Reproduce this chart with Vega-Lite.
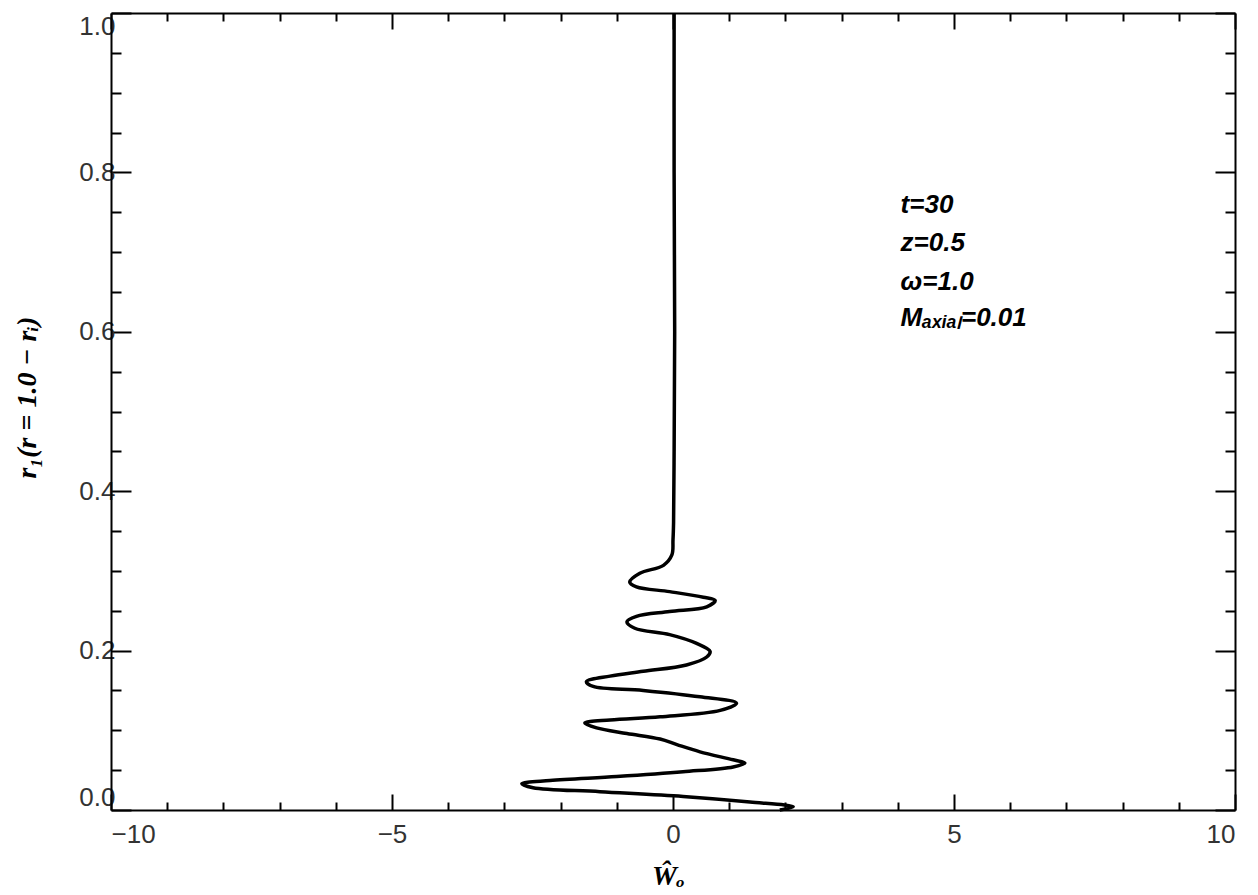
{
  "$schema": "https://vega.github.io/schema/vega-lite/v6.json",
  "autosize": "none",
  "width": 1124,
  "height": 797,
  "padding": {"left": 111, "top": 13, "right": 23, "bottom": 85},
  "background": "white",
  "config": {
    "view": {"stroke": null},
    "axis": {
      "domainColor": "black",
      "domainWidth": 2,
      "tickColor": "black",
      "tickWidth": 2,
      "grid": false,
      "labelFont": "Liberation Sans",
      "labelFontSize": 26,
      "labelColor": "#333",
      "titleFont": "Liberation Serif",
      "titleFontStyle": "italic",
      "titleFontWeight": "bold",
      "titleFontSize": 28,
      "titleColor": "black"
    }
  },
  "datasets": {
    "curve": [
      {"x": 0.02, "r": 1.0},
      {"x": 0.02, "r": 0.8},
      {"x": 0.03, "r": 0.6},
      {"x": 0.02, "r": 0.45},
      {"x": 0.01, "r": 0.36},
      {"x": 0.0, "r": 0.339},
      {"x": -0.02, "r": 0.32},
      {"x": -0.17, "r": 0.307},
      {"x": -0.59, "r": 0.297},
      {"x": -0.77, "r": 0.286},
      {"x": -0.65, "r": 0.28},
      {"x": -0.06, "r": 0.274},
      {"x": 0.54, "r": 0.267},
      {"x": 0.75, "r": 0.263},
      {"x": 0.6, "r": 0.255},
      {"x": -0.06, "r": 0.249},
      {"x": -0.65, "r": 0.243},
      {"x": -0.82, "r": 0.236},
      {"x": -0.68, "r": 0.228},
      {"x": -0.06, "r": 0.22},
      {"x": 0.42, "r": 0.209},
      {"x": 0.66, "r": 0.199},
      {"x": 0.6, "r": 0.192},
      {"x": 0.24, "r": 0.182},
      {"x": -0.53, "r": 0.174},
      {"x": -1.12, "r": 0.168},
      {"x": -1.54, "r": 0.161},
      {"x": -1.42, "r": 0.155},
      {"x": -0.53, "r": 0.15},
      {"x": 0.48, "r": 0.142},
      {"x": 1.13, "r": 0.134},
      {"x": 0.84, "r": 0.125},
      {"x": -0.23, "r": 0.117},
      {"x": -1.12, "r": 0.113},
      {"x": -1.57, "r": 0.109},
      {"x": -1.36, "r": 0.103},
      {"x": -0.82, "r": 0.096},
      {"x": -0.23, "r": 0.089},
      {"x": 0.07, "r": 0.082},
      {"x": 0.48, "r": 0.073},
      {"x": 1.07, "r": 0.063},
      {"x": 1.28, "r": 0.059},
      {"x": 1.07, "r": 0.054},
      {"x": 0.18, "r": 0.048},
      {"x": -1.0, "r": 0.042},
      {"x": -2.19, "r": 0.037},
      {"x": -2.69, "r": 0.033},
      {"x": -2.49, "r": 0.028},
      {"x": -1.3, "r": 0.023},
      {"x": 0.18, "r": 0.017},
      {"x": 1.37, "r": 0.01},
      {"x": 2.14, "r": 0.004},
      {"x": 1.9, "r": 0.0}
    ],
    "notes": [
      {"label": "t=30", "x": 4.05, "r": 0.759},
      {"label": "z=0.5", "x": 4.05, "r": 0.711},
      {"label": "ω=1.0", "x": 4.05, "r": 0.662},
      {"label": "Mₐₓᵢₐₗ=0.01", "x": 4.05, "r": 0.617}
    ]
  },
  "resolve": {"axis": {"x": "independent", "y": "independent"}},
  "layer": [
    {
      "data": {"name": "curve"},
      "mark": {"type": "line", "color": "black", "strokeWidth": 3.5, "interpolate": "catmull-rom"},
      "encoding": {
        "x": {
          "field": "x", "type": "quantitative",
          "scale": {"domain": [-10, 10], "nice": false, "zero": false},
          "axis": {"orient": "bottom", "values": [-10, -5, 0, 5, 10], "tickSize": -16, "labelPadding": 27, "title": "Ŵₒ", "titleX": 557, "titleY": 66, "titleBaseline": "middle", "titleAnchor": null}
        },
        "y": {
          "field": "r", "type": "quantitative",
          "scale": {"domain": [0, 1], "nice": false, "zero": false},
          "axis": {"orient": "left", "values": [0, 0.2, 0.4, 0.6, 0.8, 1.0], "format": ".1f", "tickSize": -20, "labelPadding": 16, "labelFlush": true, "title": "r₁(r = 1.0 − rᵢ)", "titleX": -84, "titleY": 384, "titleAngle": -90, "titleBaseline": "middle", "titleAnchor": null}
        },
        "order": {"field": "r", "sort": "descending"}
      }
    },
    {
      "data": {"name": "curve"},
      "mark": {"type": "line", "opacity": 0},
      "encoding": {
        "x": {
          "field": "x", "type": "quantitative",
          "axis": {"orient": "bottom", "values": [-9, -8, -7, -6, -4, -3, -2, -1, 1, 2, 3, 4, 6, 7, 8, 9], "tickSize": -8, "labels": false, "domain": false, "title": null}
        },
        "y": {
          "field": "r", "type": "quantitative",
          "axis": {"orient": "left", "values": [0.05, 0.1, 0.15, 0.25, 0.3, 0.35, 0.45, 0.5, 0.55, 0.65, 0.7, 0.75, 0.85, 0.9, 0.95], "tickSize": -10, "labels": false, "domain": false, "title": null}
        }
      }
    },
    {
      "data": {"name": "curve"},
      "mark": {"type": "line", "opacity": 0},
      "encoding": {
        "x": {
          "field": "x", "type": "quantitative",
          "axis": {"orient": "top", "values": [-10, -5, 0, 5, 10], "tickSize": -16, "labels": false, "title": null}
        },
        "y": {
          "field": "r", "type": "quantitative",
          "axis": {"orient": "right", "values": [0, 0.2, 0.4, 0.6, 0.8, 1.0], "tickSize": -20, "labels": false, "title": null}
        }
      }
    },
    {
      "data": {"name": "curve"},
      "mark": {"type": "line", "opacity": 0},
      "encoding": {
        "x": {
          "field": "x", "type": "quantitative",
          "axis": {"orient": "top", "values": [-9, -8, -7, -6, -4, -3, -2, -1, 1, 2, 3, 4, 6, 7, 8, 9], "tickSize": -8, "labels": false, "domain": false, "title": null}
        },
        "y": {
          "field": "r", "type": "quantitative",
          "axis": {"orient": "right", "values": [0.05, 0.1, 0.15, 0.25, 0.3, 0.35, 0.45, 0.5, 0.55, 0.65, 0.7, 0.75, 0.85, 0.9, 0.95], "tickSize": -10, "labels": false, "domain": false, "title": null}
        }
      }
    },
    {
      "data": {"name": "notes"},
      "mark": {"type": "text", "align": "left", "baseline": "middle", "font": "Liberation Sans", "fontStyle": "italic", "fontWeight": "bold", "fontSize": 26, "color": "black"},
      "encoding": {
        "x": {"field": "x", "type": "quantitative", "axis": null},
        "y": {"field": "r", "type": "quantitative", "axis": null},
        "text": {"field": "label"}
      }
    }
  ]
}
